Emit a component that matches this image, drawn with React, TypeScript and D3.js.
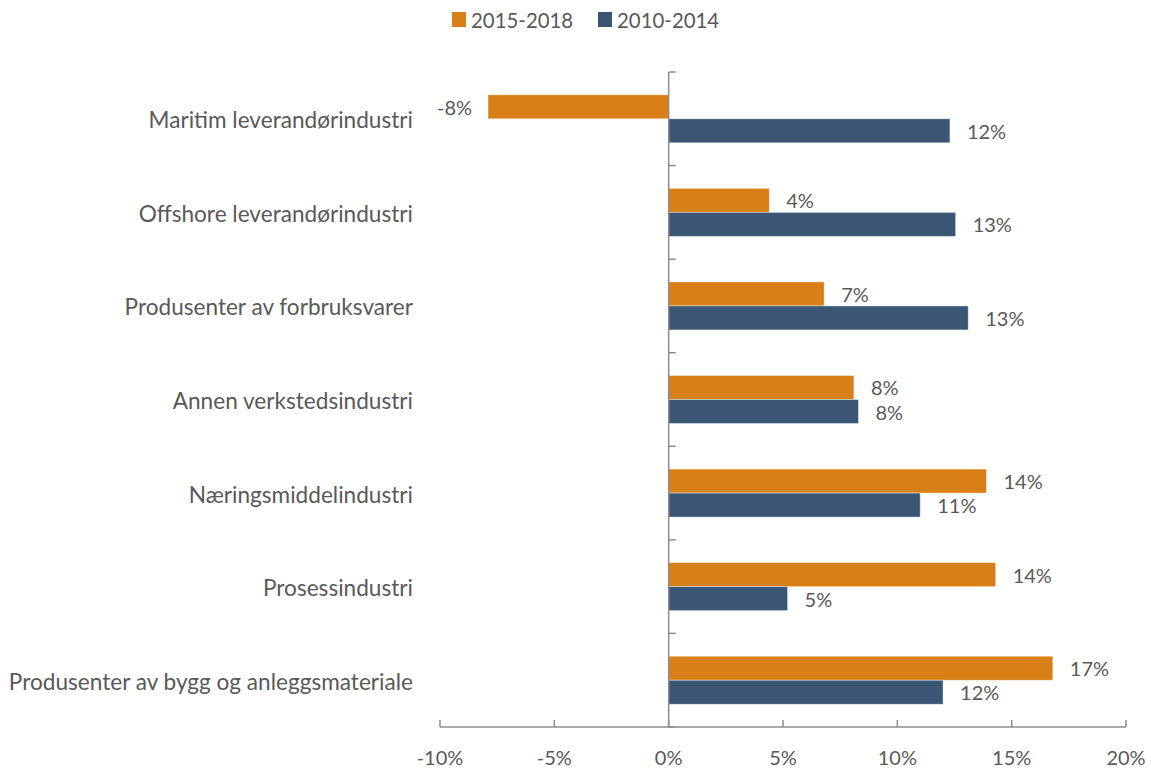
import React from "react";
import * as d3 from "d3";

const categories = [
  "Maritim leverandørindustri",
  "Offshore leverandørindustri",
  "Produsenter av forbruksvarer",
  "Annen verkstedsindustri",
  "Næringsmiddelindustri",
  "Prosessindustri",
  "Produsenter av bygg og anleggsmateriale",
];
const seriesNames = ["2015-2018", "2010-2014"];
const values2015 = [-7.9, 4.4, 6.8, 8.1, 13.9, 14.3, 16.8];
const values2010 = [12.3, 12.55, 13.1, 8.3, 11.0, 5.2, 12.0];
const xTicks = [-10, -5, 0, 5, 10, 15, 20];
const colors = ["#D97F17", "#3A5674"];

const W = 1151;
const H = 769;
const FONT = "Lato, 'Open Sans', sans-serif";
const TEXT = "#595959";
const AXIS = "#8c8c8c";

export default function App() {
  const x = d3.scaleLinear().domain([-10, 20]).range([440, 1126]);
  const y = d3
    .scaleBand<string>()
    .domain(categories)
    .range([72, 727])
    .paddingInner(0.487)
    .paddingOuter(0.2435);
  const sub = d3.scaleBand<string>().domain(seriesNames).range([0, y.bandwidth()]);
  const series = [values2015, values2010];
  const step = y.step();
  const catTicks = d3.range(categories.length + 1).map((i) => 72 + i * step);
  const x0 = x(0);
  const axisY = 727;

  return (
    <svg
      width={W}
      height={H}
      style={{ position: "absolute", left: 0, top: 0, background: "#fff" }}
      fontFamily={FONT}
    >
      {/* legend */}
      {seriesNames.map((s, i) => {
        const lx = [452, 598][i];
        return (
          <g key={s}>
            <rect x={lx} y={12} width={14} height={15} fill={colors[i]} />
            <text x={lx + 19} y={20} dominantBaseline="central" fontSize={20.4} fill={TEXT}>
              {s}
            </text>
          </g>
        );
      })}

      {/* bars */}
      {categories.map((c, ci) =>
        series.map((vals, si) => {
          const v = vals[ci];
          const by = (y(c) as number) + (sub(seriesNames[si]) as number);
          const bh = sub.bandwidth();
          const xa = x(Math.min(0, v));
          const xb = x(Math.max(0, v));
          const label = `${Math.round(v)}%`;
          return (
            <g key={c + si}>
              <rect
                x={xa}
                y={by}
                width={xb - xa}
                height={bh}
                fill={colors[si]}
                stroke="#ffffff"
                strokeOpacity={0.5}
                strokeWidth={0.8}
              />
              <text
                x={v < 0 ? xa - 16 : xb + 17}
                y={by + bh / 2}
                dominantBaseline="central"
                textAnchor={v < 0 ? "end" : "start"}
                fontSize={20}
                fill={TEXT}
              >
                {label}
              </text>
            </g>
          );
        })
      )}

      {/* category labels */}
      {categories.map((c) => (
        <text
          key={c}
          x={413}
          y={(y(c) as number) + y.bandwidth() / 2 + 1}
          dominantBaseline="central"
          textAnchor="end"
          fontSize={22.6}
          fill={TEXT}
        >
          {c}
        </text>
      ))}

      {/* y axis */}
      <line x1={x0} x2={x0} y1={72} y2={axisY} stroke={AXIS} strokeWidth={1.5} />
      {catTicks.map((t, i) => (
        <line key={i} x1={x0} x2={x0 + 7} y1={t} y2={t} stroke={AXIS} strokeWidth={1.5} />
      ))}

      {/* x axis */}
      <line x1={x(-10)} x2={x(20)} y1={axisY} y2={axisY} stroke={AXIS} strokeWidth={1.5} />
      {xTicks.map((t) => (
        <g key={t}>
          <line x1={x(t)} x2={x(t)} y1={axisY} y2={axisY - 7} stroke={AXIS} strokeWidth={1.5} />
          <text
            x={x(t)}
            y={757}
            dominantBaseline="central"
            textAnchor="middle"
            fontSize={20}
            fill={TEXT}
          >
            {`${t}%`}
          </text>
        </g>
      ))}
    </svg>
  );
}
